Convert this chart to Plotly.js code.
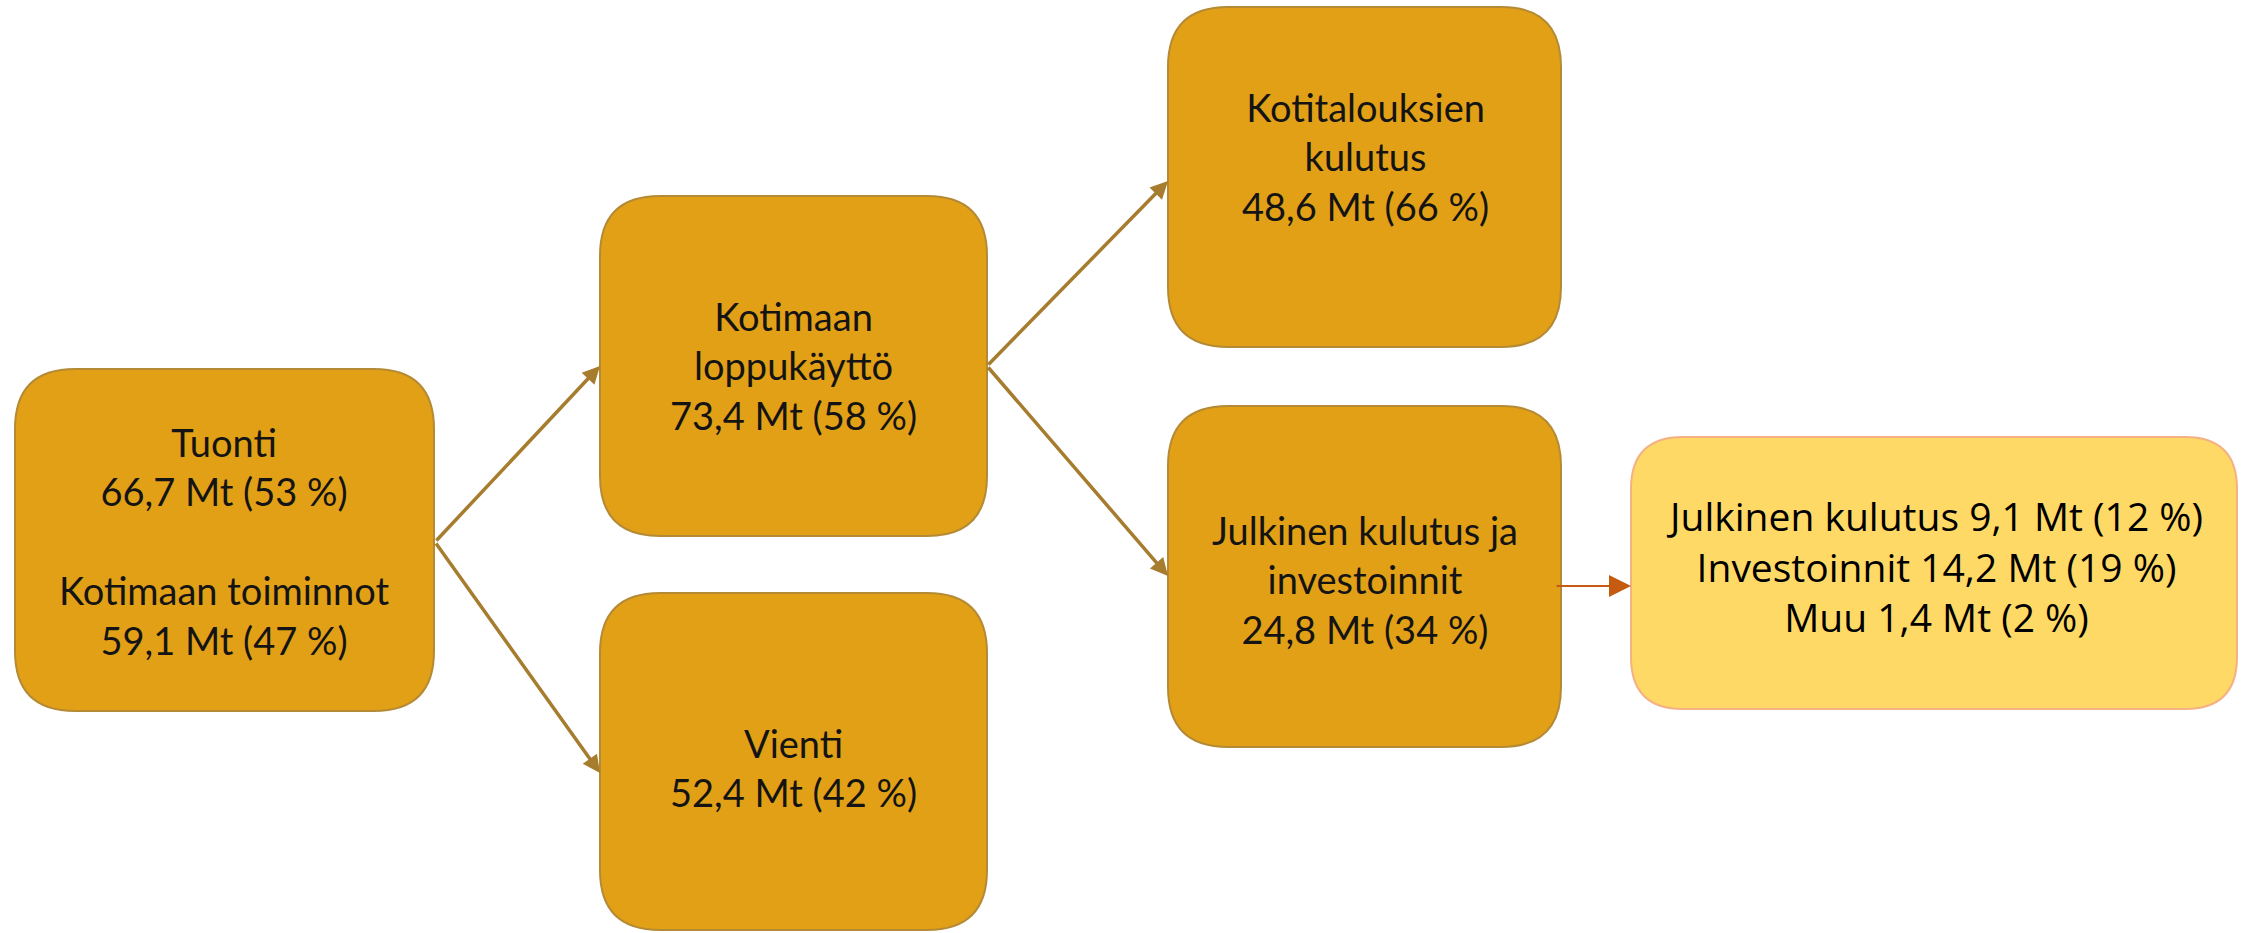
<!DOCTYPE html>
<html>
<head>
<meta charset="utf-8">
<script src="https://cdn.plot.ly/plotly-3.0.1.min.js"></script>
<style>
html,body{margin:0;padding:0;background:#fff;}
#chart{width:2242px;height:933px;}
</style>
</head>
<body>
<div id="chart"></div>
<script>
// ---- data ----
const nodeLabels = ["Tuonti", "Kotimaan toiminnot", "Kotimaan<br>loppukäyttö", "Vienti",
                    "Kotitalouksien<br>kulutus", "Julkinen kulutus ja<br>investoinnit"];
const nodeValues = [66.7, 59.1, 73.4, 52.4, 48.6, 24.8];
const nodeShares = [53, 47, 58, 42, 66, 34];
const detailLabels = ["Julkinen kulutus", "Investoinnit", "Muu"];
const detailValues = [9.1, 14.2, 1.4];
const detailShares = [12, 19, 2];
const unit = "Mt";

// ---- layout geometry (positions, not data) ----
const W = 2242, H = 933;
const boxes = [
  {x0: 15,   x1: 434,  y0: 369, y1: 711, tx: 224,  ty: 541, fill: "#E2A017", line: "#B58A35", r: 60},
  {x0: 600,  x1: 987,  y0: 196, y1: 536, tx: 793,  ty: 365, fill: "#E2A017", line: "#B58A35", r: 60},
  {x0: 600,  x1: 987,  y0: 593, y1: 930, tx: 793,  ty: 767, fill: "#E2A017", line: "#B58A35", r: 60},
  {x0: 1168, x1: 1561, y0: 7,   y1: 347, tx: 1365, ty: 156, fill: "#E2A017", line: "#B58A35", r: 60},
  {x0: 1168, x1: 1561, y0: 406, y1: 747, tx: 1365, ty: 579, fill: "#E2A017", line: "#B58A35", r: 60},
  {x0: 1631, x1: 2237, y0: 437, y1: 709, tx: 1934, ty: 566, fill: "#FFD966", line: "#F4B183", r: 52}
];
const arrows = [
  {from: [435, 542], to: [600, 366], color: "#A67C2E", w: 3.5, s: 1},
  {from: [435, 542], to: [600, 773], color: "#A67C2E", w: 3.5, s: 1},
  {from: [987, 366], to: [1168, 181], color: "#A67C2E", w: 3.5, s: 1},
  {from: [987, 366], to: [1168, 576], color: "#A67C2E", w: 3.5, s: 1},
  {from: [1555, 586], to: [1631, 586], color: "#C55A11", w: 2, s: 2.2}
];

function fmt(v) { return v.toFixed(1).replace(".", ","); }
function line(v, s) { return fmt(v) + " " + unit + " (" + s + " %)"; }

function roundRect(b) {
  const r = b.r;
  return `M${b.x0 + r},${b.y0} L${b.x1 - r},${b.y0} Q${b.x1},${b.y0} ${b.x1},${b.y0 + r} ` +
         `L${b.x1},${b.y1 - r} Q${b.x1},${b.y1} ${b.x1 - r},${b.y1} L${b.x0 + r},${b.y1} ` +
         `Q${b.x0},${b.y1} ${b.x0},${b.y1 - r} L${b.x0},${b.y0 + r} Q${b.x0},${b.y0} ${b.x0 + r},${b.y0} Z`;
}

const shapes = boxes.map(b => ({
  type: "path", xref: "x", yref: "y", path: roundRect(b),
  fillcolor: b.fill, line: {color: b.line, width: 2}, layer: "below"
}));

const texts = [
  nodeLabels[0] + "<br>" + line(nodeValues[0], nodeShares[0]) + "<br> <br>" +
    nodeLabels[1] + "<br>" + line(nodeValues[1], nodeShares[1]),
  nodeLabels[2] + "<br>" + line(nodeValues[2], nodeShares[2]),
  nodeLabels[3] + "<br>" + line(nodeValues[3], nodeShares[3]),
  nodeLabels[4] + "<br>" + line(nodeValues[4], nodeShares[4]),
  nodeLabels[5] + "<br>" + line(nodeValues[5], nodeShares[5]),
  detailLabels.map((l, i) => l + " " + line(detailValues[i], detailShares[i])).join("<br>")
];

const annotations = [];
texts.forEach((t, i) => {
  const b = boxes[i];
  const detail = i === 5;
  annotations.push({
    x: b.tx, y: b.ty, xref: "x", yref: "y", text: t, showarrow: false,
    xanchor: "center", yanchor: "middle", align: "center",
    font: detail ? {family: "'Open Sans', 'Noto Sans', sans-serif", size: 39, color: "#000"}
                 : {family: "Lato, 'Open Sans', sans-serif", size: 38, color: "#141414"}
  });
});
arrows.forEach(a => {
  annotations.push({
    x: a.to[0], y: a.to[1], ax: a.from[0], ay: a.from[1],
    xref: "x", yref: "y", axref: "x", ayref: "y",
    text: "", showarrow: true, arrowhead: 2, arrowsize: a.s, arrowwidth: a.w,
    arrowcolor: a.color, standoff: 0, startstandoff: 0
  });
});

const layout = {
  width: W, height: H,
  margin: {l: 0, r: 0, t: 0, b: 0},
  paper_bgcolor: "#ffffff", plot_bgcolor: "#ffffff",
  xaxis: {range: [0, W], visible: false, fixedrange: true},
  yaxis: {range: [H, 0], visible: false, fixedrange: true},
  showlegend: false,
  shapes: shapes,
  annotations: annotations
};

Plotly.newPlot("chart", [{x: [], y: [], type: "scatter", mode: "markers", hoverinfo: "skip"}], layout,
  {displayModeBar: false, staticPlot: true});
</script>
</body>
</html>
